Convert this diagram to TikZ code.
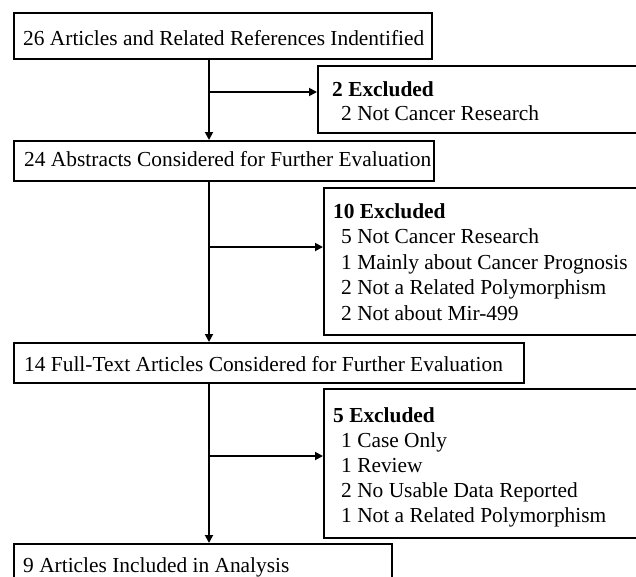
\documentclass[tikz,border=0pt]{standalone}
\usepackage{fontspec}
\setmainfont{Liberation Serif}
\usetikzlibrary{arrows.meta}
\tikzset{
  mainbox/.style={draw, line width=1.8pt, rectangle, inner sep=0pt, anchor=north west},
  txt/.style={anchor=base west, inner sep=0pt, font=\fontsize{21.4}{25}\selectfont},
  btxt/.style={anchor=base west, inner sep=0pt, font=\fontsize{21.4}{25}\selectfont\bfseries},
  arr/.style={line width=1.8pt, -{Triangle[length=8pt,width=8pt]}}
}
\begin{document}
\begin{tikzpicture}[x=1pt,y=-1pt]
\useasboundingbox (0,0) rectangle (636,576);
\clip (0,0) rectangle (636,576);
% main boxes
\node[mainbox, minimum width=418pt, minimum height=46pt] (b1) at (13,12) {};
\node[mainbox, minimum width=420pt, minimum height=40pt] (b2) at (13,140) {};
\node[mainbox, minimum width=510pt, minimum height=40pt] (b3) at (13,342) {};
\node[mainbox, minimum width=378pt, minimum height=60pt] (b4) at (13,543) {};
% excluded boxes
\node[mainbox, minimum width=360pt, minimum height=67pt] (e1) at (317,65) {};
\node[mainbox, minimum width=360pt, minimum height=147pt] (e2) at (323,187) {};
\node[mainbox, minimum width=360pt, minimum height=149pt] (e3) at (323,388) {};
% main texts
\node[txt] (t1) at (23,45) {26 Articles and Related References Indentified};
\node[txt] (t2) at (24,166) {24 Abstracts Considered for Further Evaluation};
\node[txt] (t3) at (24,371) {14 Full-Text Articles Considered for Further Evaluation};
\node[txt] (t4) at (23,572) {9 Articles Included in Analysis};
% excluded texts
\node[btxt] (h1) at (332,96) {2 Excluded};
\node[txt] (l11) at (341,120) {2 Not Cancer Research};
\node[btxt] (h2) at (333,218) {10 Excluded};
\node[txt] (l21) at (341,243.5) {5 Not Cancer Research};
\node[txt] (l22) at (341,269) {1 Mainly about Cancer Prognosis};
\node[txt] (l23) at (341,294.5) {2 Not a Related Polymorphism};
\node[txt] (l24) at (341,320) {2 Not about Mir-499};
\node[btxt] (h3) at (333,422) {5 Excluded};
\node[txt] (l31) at (341,447) {1 Case Only};
\node[txt] (l32) at (341,472) {1 Review};
\node[txt] (l33) at (341,497) {2 No Usable Data Reported};
\node[txt] (l34) at (341,522) {1 Not a Related Polymorphism};
% connectors
\coordinate (vx) at (209,0);
\coordinate (j1) at (209,92);
\coordinate (j2) at (209,247);
\coordinate (j3) at (209,456);
\draw[arr] (b1.south -| vx) -- (b2.north -| vx);
\draw[arr] (b2.south -| vx) -- (b3.north -| vx);
\draw[arr] (b3.south -| vx) -- (b4.north -| vx);
\draw[arr] (j1) -- (j1 -| e1.west);
\draw[arr] (j2) -- (j2 -| e2.west);
\draw[arr] (j3) -- (j3 -| e3.west);
\end{tikzpicture}
\end{document}
